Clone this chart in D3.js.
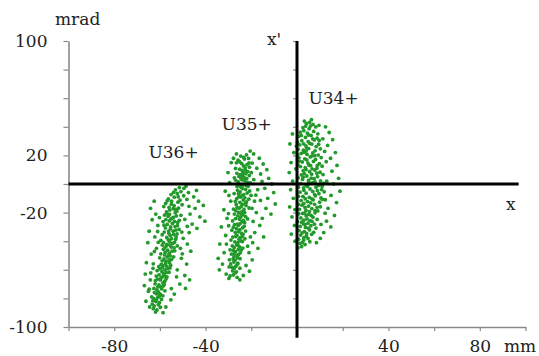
<!DOCTYPE html>
<html>
<head>
<meta charset="utf-8">
<script src="https://cdn.jsdelivr.net/npm/d3@7"></script>
<style>
  body { margin: 0; background: #fff; }
  text { font-family: "DejaVu Serif", serif; fill: #222; }
</style>
</head>
<body>
<script>
// tick values and which ones carry a label
var xTicks = [-100, -80, -60, -40, -20, 0, 20, 40, 60, 80, 100];
var yTicks = [-100, -80, -60, -40, -20, 0, 20, 40, 60, 80, 100];
var xLabeled = [-80, -40, 40, 80];
var yLabeled = [100, 20, -20, -100];

// beam labels
var beams = ["U36+", "U35+", "U34+"];
var beamLabelPos = [[-65, 18], [-33, 38], [5, 56]];

// phase space points (x in mm, x' in mrad)
var u36 = [
  [-53.2,-4.1],[-50.8,-5.3],[-55.1,-7.4],[-52.4,-6.6],[-49.6,-8.2],[-56.3,-10.5],[-53.7,-9.2],[-51.2,-11.3],[-54.9,-12.0],
  [-57.5,-13.6],[-55.0,-14.1],[-52.1,-12.7],[-53.8,-15.2],[-56.0,-16.4],[-54.2,-17.3],[-58.3,-15.8],[-51.9,-16.9],[-55.7,-18.2],
  [-57.1,-19.5],[-53.3,-20.1],[-55.8,-21.2],[-52.6,-19.0],[-56.4,-22.6],[-54.1,-23.4],[-58.0,-21.7],[-52.8,-22.3],[-55.2,-24.5],
  [-55.9,-25.8],[-53.6,-26.2],[-57.4,-24.9],[-51.5,-25.4],[-56.8,-28.3],[-54.5,-27.6],[-52.3,-29.1],[-58.2,-28.8],[-55.3,-30.0],
  [-55.4,-31.4],[-53.0,-32.2],[-57.6,-30.7],[-54.2,-33.0],[-56.1,-34.5],[-54.0,-35.3],[-58.1,-33.6],[-52.5,-34.9],[-55.5,-36.1],
  [-57.0,-37.4],[-54.9,-38.2],[-52.9,-37.0],[-56.3,-39.1],[-55.7,-40.3],[-58.4,-41.0],[-53.6,-40.8],[-56.9,-42.2],[-54.4,-41.6],
  [-57.3,-43.5],[-55.1,-44.1],[-59.0,-42.7],[-53.8,-44.6],[-56.6,-46.3],[-58.5,-45.7],[-54.7,-47.0],[-57.7,-47.8],[-55.9,-48.4],
  [-57.9,-49.6],[-55.5,-50.2],[-59.6,-48.9],[-56.8,-51.0],[-58.2,-52.4],[-56.0,-53.1],[-60.1,-51.6],[-54.9,-52.8],[-57.3,-54.0],
  [-57.5,-55.6],[-59.4,-56.2],[-55.8,-55.0],[-58.6,-57.1],[-58.9,-58.5],[-56.7,-59.2],[-60.5,-57.8],[-57.8,-60.0],[-55.6,-58.7],
  [-59.1,-61.3],[-57.3,-62.0],[-61.2,-60.6],[-58.4,-62.8],[-58.0,-64.2],[-60.3,-63.5],[-56.9,-65.0],[-59.5,-65.7],[-61.6,-64.4],
  [-59.8,-67.1],[-57.9,-68.0],[-61.0,-66.5],[-58.7,-69.2],[-60.4,-70.6],[-58.5,-71.3],[-62.1,-69.8],[-59.6,-72.0],[-59.2,-73.4],
  [-61.3,-74.1],[-57.8,-74.7],[-60.7,-75.5],[-61.5,-76.8],[-59.7,-77.4],[-62.4,-75.9],[-60.3,-78.6],[-60.9,-79.3],[-62.6,-80.1],
  [-59.3,-80.7],[-61.8,-82.2],[-60.2,-83.0],[-63.1,-81.6],[-62.5,-85.3],[-60.7,-84.4],[-61.3,-88.1],[-62.9,-87.2],
  [-54.0,-5.8],[-52.0,-8.9],[-56.8,-11.7],[-50.3,-14.5],[-53.0,-17.8],[-57.0,-20.6],[-50.8,-21.9],[-54.6,-23.8],[-52.2,-26.9],
  [-58.6,-26.3],[-53.4,-29.8],[-56.2,-32.9],[-51.6,-31.8],[-59.0,-35.5],[-53.1,-38.7],[-55.6,-42.8],[-59.6,-39.4],[-52.4,-43.3],
  [-57.9,-44.6],[-53.5,-46.7],[-56.1,-49.5],[-54.0,-50.9],[-59.0,-53.7],[-55.3,-56.8],[-57.0,-57.6],[-60.0,-59.4],[-56.0,-61.7],
  [-58.9,-64.9],[-62.0,-67.5],[-57.3,-66.4],[-60.9,-71.9],[-58.1,-70.2],[-62.6,-73.0],[-60.0,-76.9],[-58.7,-78.2],[-61.5,-81.4],
  [-63.4,-84.0],[-59.8,-86.2],[-61.9,-89.5],
  [-47.5,-6.0],[-45.2,-9.0],[-43.1,-12.0],[-41.0,-15.0],[-44.6,-17.0],[-46.8,-21.0],[-42.5,-23.0],[-40.3,-26.0],[-45.9,-28.0],
  [-43.8,-31.0],[-47.2,-34.0],[-49.5,-3.0],[-44.0,-4.5],[-51.5,-2.5],[-48.6,-1.5],
  [-48.2,-10.8],[-47.3,-15.6],[-49.1,-24.7],[-48.0,-29.6],[-50.4,-33.6],[-50.2,-48.8],[-52.7,-64.9],[-55.0,-73.1],
  [-62.5,-12.0],[-64.1,-17.0],[-61.8,-21.0],[-63.4,-25.0],[-60.9,-29.0],[-64.7,-33.0],[-62.2,-37.0],[-65.3,-41.0],[-61.5,-45.0],
  [-63.8,-49.0],[-65.9,-55.0],[-63.0,-59.0],[-66.4,-63.0],[-64.2,-67.0],[-66.8,-71.0],[-65.0,-75.0],[-63.6,-79.0],[-66.1,-82.0],
  [-64.5,-86.0],[-60.2,-23.5],[-61.0,-33.2],[-60.7,-40.8],[-62.4,-47.2],[-62.9,-55.8],[-64.0,-62.1],[-64.7,-73.6],
  [-50.6,-52.0],[-48.3,-56.0],[-52.4,-60.0],[-49.1,-64.0],[-47.0,-67.0],[-51.3,-70.0],[-48.8,-73.0],[-53.7,-77.0],
  [-55.2,-81.0],[-57.4,-86.0],[-58.6,-90.0],[-49.8,-38.0],[-48.0,-42.0],[-51.0,-45.0],[-46.5,-47.0]
];

var u35 = [
  [-22.1,20.3],[-24.6,19.5],[-23.0,17.4],[-25.8,16.6],[-21.2,17.9],[-24.2,14.3],[-21.9,13.5],[-26.5,14.8],[-23.4,12.6],
  [-22.7,11.2],[-25.1,10.4],[-20.8,11.8],[-24.0,9.5],[-23.6,8.1],[-26.3,7.5],[-21.5,8.7],[-24.8,6.6],[-22.4,7.2],
  [-25.4,5.3],[-23.1,4.6],[-20.9,5.9],[-24.5,3.7],[-22.9,2.2],[-25.7,1.5],[-24.1,2.9],[-21.6,1.1],[-26.8,2.6],
  [-23.7,-0.8],[-21.4,-1.6],[-25.2,-0.3],[-24.6,-2.1],[-22.5,-3.7],[-26.0,-4.4],[-23.9,-3.2],[-20.7,-4.9],[-24.9,-5.6],
  [-25.6,-6.8],[-23.3,-7.5],[-21.8,-6.3],[-24.3,-8.4],[-22.8,-9.7],[-26.4,-10.3],[-24.7,-9.1],[-23.5,-11.2],[-21.1,-10.6],
  [-25.0,-12.8],[-22.6,-13.5],[-27.0,-12.1],[-23.9,-14.2],[-24.4,-15.7],[-26.2,-16.4],[-22.3,-15.1],[-25.3,-17.0],[-23.2,-17.8],
  [-26.8,-18.6],[-24.1,-19.3],[-22.9,-20.0],[-25.6,-19.9],[-23.7,-21.5],[-25.9,-22.3],[-27.4,-21.0],[-24.6,-23.1],[-22.5,-22.8],
  [-25.2,-24.6],[-23.4,-25.5],[-26.9,-24.2],[-24.0,-26.3],[-24.8,-27.7],[-27.3,-28.4],[-22.9,-27.1],[-25.7,-29.0],[-26.1,-28.0],
  [-23.8,-30.6],[-26.5,-31.3],[-25.0,-32.0],[-27.8,-30.2],[-25.5,-33.4],[-24.2,-34.6],[-27.0,-34.0],[-23.6,-35.2],[-26.3,-35.9],
  [-26.8,-36.7],[-24.9,-37.5],[-28.1,-37.1],[-25.4,-38.6],[-24.6,-39.8],[-27.2,-40.5],[-25.9,-41.1],[-23.9,-40.2],
  [-26.4,-42.6],[-28.3,-43.2],[-25.1,-43.9],[-27.5,-44.4],[-25.7,-45.8],[-27.9,-46.5],[-24.4,-46.1],[-26.9,-47.3],
  [-27.3,-48.7],[-25.6,-49.4],[-28.7,-49.0],[-26.2,-50.3],[-26.0,-51.7],[-28.0,-52.5],[-27.1,-53.2],
  [-27.6,-54.6],[-25.9,-55.4],[-29.0,-55.9],[-26.8,-57.5],[-28.4,-58.3],[-27.5,-59.1],[-28.2,-60.7],[-26.5,-61.4],
  [-27.9,-63.6],[-29.3,-64.3],
  [-23.3,18.6],[-25.0,15.4],[-21.0,14.7],[-22.6,9.7],[-26.9,10.9],[-20.0,7.9],[-23.8,5.9],[-27.4,4.3],[-22.0,3.8],
  [-20.4,0.7],[-26.2,-1.8],[-22.2,-1.0],[-27.5,-6.7],[-20.1,-8.0],[-25.5,-8.9],[-22.1,-12.6],[-26.6,-14.3],[-21.0,-16.8],
  [-27.8,-17.5],[-24.5,-21.0],[-21.6,-24.4],[-28.2,-25.8],[-23.1,-29.6],[-28.5,-32.3],[-22.5,-32.9],[-24.0,-36.7],[-28.9,-39.2],
  [-22.8,-38.3],[-25.8,-43.0],[-23.7,-44.8],[-29.3,-46.0],[-24.8,-48.1],[-27.6,-50.8],[-24.9,-52.2],[-29.6,-53.0],[-26.1,-56.2],
  [-25.0,-58.9],[-29.7,-58.0],[-27.1,-62.2],[-26.2,-65.3],
  [-19.0,21.0],[-16.5,18.0],[-14.8,14.0],[-13.2,10.0],[-15.9,7.0],[-12.4,4.0],[-11.0,0.0],[-14.1,-3.0],[-10.2,-6.0],
  [-12.8,-10.0],[-9.5,-14.0],[-13.6,-17.0],[-11.4,-21.0],[-15.2,-24.0],[-17.8,-20.0],[-18.6,-12.0],[-17.2,-4.0],[-18.9,3.0],
  [-20.5,23.0],[-17.6,11.0],[-16.3,-29.0],[-18.5,-34.0],[-14.6,-37.0],[-19.4,-41.0],[-17.1,-45.0],[-21.0,-48.0],[-19.6,-53.0],
  [-22.3,-57.0],[-20.8,-61.0],[-23.5,-64.0],[-25.0,-67.0],
  [-19.2,-26.2],[-19.7,-17.0],[-16.0,-11.5],[-15.3,1.8],[-19.6,14.6],[-18.0,-7.8],[-20.4,-37.0],[-21.6,-43.5],
  [-28.8,15.0],[-30.2,8.0],[-29.5,1.0],[-31.4,-5.0],[-29.0,-12.0],[-32.0,-18.0],[-30.6,-24.0],[-33.1,-30.0],[-31.2,-36.0],
  [-33.8,-42.0],[-31.9,-48.0],[-34.5,-52.0],[-32.6,-56.0],[-34.0,-60.0],[-31.0,-63.0],[-29.8,-66.0],[-26.5,21.0],[-27.8,18.0],
  [-30.0,-20.7],[-29.8,-8.0],[-30.9,-42.0],[-29.9,-29.2]
];

var u34 = [
  [4.1,42.3],[7.0,41.6],[5.5,43.0],[2.6,39.4],[5.3,38.7],[8.2,39.9],[3.8,40.5],[1.4,36.2],[4.6,35.5],[7.3,36.8],[9.1,35.1],[3.0,37.3],
  [0.8,33.4],[3.7,32.6],[6.2,33.9],[8.8,32.1],[5.0,34.2],[2.1,30.3],[4.9,29.6],[7.6,30.8],[0.2,29.2],[9.7,30.5],
  [1.2,27.4],[3.9,26.7],[6.5,27.9],[8.4,26.2],[5.6,28.4],[0.5,24.3],[2.8,23.6],[5.1,24.8],[7.9,23.2],[10.2,24.6],[4.2,25.3],
  [1.8,21.4],[4.4,20.7],[6.9,21.8],[9.3,20.2],[3.1,22.1],[0.9,18.3],[3.4,17.6],[5.8,18.9],[8.1,17.2],[10.6,18.5],[6.6,19.6],
  [2.3,15.4],[4.8,14.6],[7.2,15.8],[9.8,14.3],[1.0,16.0],[1.5,12.2],[3.6,11.5],[6.0,12.8],[8.7,11.1],[11.0,12.5],[5.2,13.3],
  [2.7,9.3],[5.5,8.6],[7.8,9.8],[10.1,8.2],[4.0,10.1],[1.9,6.4],[4.3,5.6],[6.4,6.9],[9.0,5.2],[11.4,6.6],[3.2,7.3],
  [2.4,3.2],[5.0,2.5],[7.5,3.7],[10.3,2.1],[6.2,4.1],[1.6,0.3],[3.8,-0.5],[6.8,0.8],[9.4,-0.9],[11.7,0.5],[5.3,1.2],
  [2.9,-2.8],[5.7,-3.5],[8.3,-2.2],[10.8,-3.9],[4.5,-1.7],[1.3,-5.7],[4.0,-6.4],[6.9,-5.2],[9.6,-6.8],[11.9,-5.5],[7.7,-7.4],
  [2.6,-8.7],[5.4,-9.4],[8.0,-8.2],[10.5,-9.8],[3.6,-10.3],[1.8,-11.6],[4.6,-12.3],[7.1,-11.1],[9.9,-12.7],[6.0,-13.2],
  [2.2,-14.8],[5.0,-15.5],[7.7,-14.2],[10.2,-15.9],[3.5,-16.4],[1.1,-17.7],[3.9,-18.4],[6.5,-17.2],[9.1,-18.8],[5.4,-19.3],
  [2.5,-20.6],[5.2,-21.3],[7.9,-20.1],[4.0,-22.2],[1.7,-23.7],[4.4,-24.4],[7.0,-23.2],[8.8,-24.8],[3.0,-25.3],
  [2.0,-26.7],[4.8,-27.4],[6.6,-26.2],[3.5,-28.2],[1.4,-29.7],[3.7,-30.4],[6.1,-29.2],[8.3,-30.8],
  [0.9,-32.6],[3.2,-33.3],[5.5,-32.1],[2.2,-34.2],[1.6,-35.7],[4.1,-36.4],[6.4,-35.2],[0.7,-38.6],[2.9,-39.3],[4.8,-38.1],
  [1.3,-41.5],[3.5,-42.3],[2.0,-43.8],[0.4,-44.5],
  [5.9,40.5],[1.9,34.0],[6.9,31.5],[2.9,28.1],[9.5,27.8],[4.0,23.0],[7.8,19.9],[0.3,20.2],[4.3,16.8],[8.9,13.0],
  [0.4,13.6],[6.6,10.6],[2.7,4.8],[8.7,7.6],[0.5,4.3],[4.6,-1.1],[7.9,1.4],[0.6,-2.2],[3.0,-4.4],[8.9,-4.6],
  [0.7,-8.6],[6.5,-10.4],[11.2,-10.8],[3.0,-13.6],[8.8,-16.3],[0.6,-14.2],[7.9,-18.6],[3.4,-20.3],[6.2,-21.9],[0.8,-20.8],
  [5.7,-25.6],[2.8,-27.9],[7.6,-28.1],[5.0,-30.9],[0.2,-26.3],[4.2,-34.6],[7.3,-33.8],[3.0,-37.6],[5.6,-40.4],[2.3,-41.0],
  [-2.0,35.0],[-3.1,28.0],[-1.4,22.0],[-2.6,15.0],[-3.4,8.0],[-1.9,2.0],[-2.8,-4.0],[-1.6,-10.0],[-3.2,-16.0],[-2.2,-23.0],
  [-1.1,-29.0],[-2.5,-35.0],[-0.8,-40.0],[-0.5,10.6],[-0.9,-17.9],[-0.3,26.5],
  [12.5,40.0],[14.1,36.0],[15.6,31.0],[13.4,27.0],[16.8,22.0],[14.7,18.0],[17.5,13.0],[15.3,9.0],[18.2,4.0],[16.0,0.0],
  [18.8,-5.0],[14.9,-8.0],[17.3,-13.0],[13.6,-17.0],[16.4,-22.0],[12.9,-26.0],[14.8,-30.0],[11.7,-34.0],[10.2,-38.0],[8.5,-41.0],
  [13.0,2.0],[12.4,-11.0],[6.3,45.0],[3.2,44.0],[9.6,41.0],
  [12.8,15.6],[12.1,22.8],[11.3,31.6],[11.0,-1.6],[12.3,-20.4],[10.5,-28.3]
];

var w = 539;
var h = 356;

var svg = d3.select("body")
    .append("svg")
    .attr("width", w)
    .attr("height", h);

var xScale = d3.scaleLinear().domain([-100, 100]).range([68.5, 525.5]);
var yScale = d3.scaleLinear().domain([-100, 100]).range([327, 41]);

// left axis
var yAxis = d3.axisLeft(yScale)
    .tickValues(yTicks)
    .tickSize(5)
    .tickSizeOuter(0)
    .tickPadding(16)
    .tickFormat(function (d) { return yLabeled.indexOf(d) >= 0 ? String(d) : ""; });
var gy = svg.append("g")
    .attr("transform", "translate(" + xScale(-100) + ",0)")
    .call(yAxis);

// bottom axis
var xAxis = d3.axisBottom(xScale)
    .tickValues(xTicks)
    .tickSize(4)
    .tickSizeOuter(0)
    .tickPadding(9)
    .tickFormat(function (d) { return xLabeled.indexOf(d) >= 0 ? String(d) : ""; });
var gx = svg.append("g")
    .attr("transform", "translate(0," + yScale(-100) + ")")
    .call(xAxis);

[gx, gy].forEach(function (g) {
    g.select(".domain").attr("stroke", "#8a8a8a").attr("stroke-width", 1.6);
    g.selectAll(".tick line").attr("stroke", "#8a8a8a").attr("stroke-width", 1.2);
    g.selectAll(".tick text")
        .style("font-family", "DejaVu Serif, serif")
        .style("font-size", "17px")
        .attr("fill", "#222");
});

// small ticks along the x' line
svg.append("g")
    .attr("transform", "translate(" + xScale(0) + ",0)")
    .call(d3.axisLeft(yScale).tickValues(yTicks).tickSize(4).tickFormat(""))
    .call(function (g) { g.select(".domain").remove(); })
    .selectAll(".tick line").attr("stroke", "#8a8a8a").attr("stroke-width", 1.2);

// points
var color = "#22992a";
[u36, u35, u34].forEach(function (pts) {
    svg.append("g").selectAll("circle")
        .data(pts)
        .enter()
        .append("circle")
        .attr("cx", function (d) { return xScale(d[0]); })
        .attr("cy", function (d) { return yScale(d[1]); })
        .attr("r", 1.9)
        .style("fill", color);
});

// crosshair
svg.append("line")
    .attr("x1", xScale(-100)).attr("x2", xScale(97))
    .attr("y1", yScale(0)).attr("y2", yScale(0))
    .attr("stroke", "#000").attr("stroke-width", 3);
svg.append("line")
    .attr("x1", xScale(0)).attr("x2", xScale(0))
    .attr("y1", yScale(100)).attr("y2", yScale(-107.5))
    .attr("stroke", "#000").attr("stroke-width", 3);

// labels
svg.selectAll(".beam")
    .data(beams)
    .enter().append("text")
    .attr("class", "beam")
    .attr("x", function (d, i) { return xScale(beamLabelPos[i][0]); })
    .attr("y", function (d, i) { return yScale(beamLabelPos[i][1]); })
    .style("font-size", "17px")
    .text(function (d) { return d; });

svg.append("text").attr("x", 55).attr("y", 25).style("font-size", "17px").text("mrad");
svg.append("text").attr("x", 504).attr("y", 352).style("font-size", "17px").text("mm");
svg.append("text").attr("x", 267).attr("y", 45).style("font-size", "17px").text("x'");
svg.append("text").attr("x", 506).attr("y", 210).style("font-size", "17px").text("x");
</script>
</body>
</html>
